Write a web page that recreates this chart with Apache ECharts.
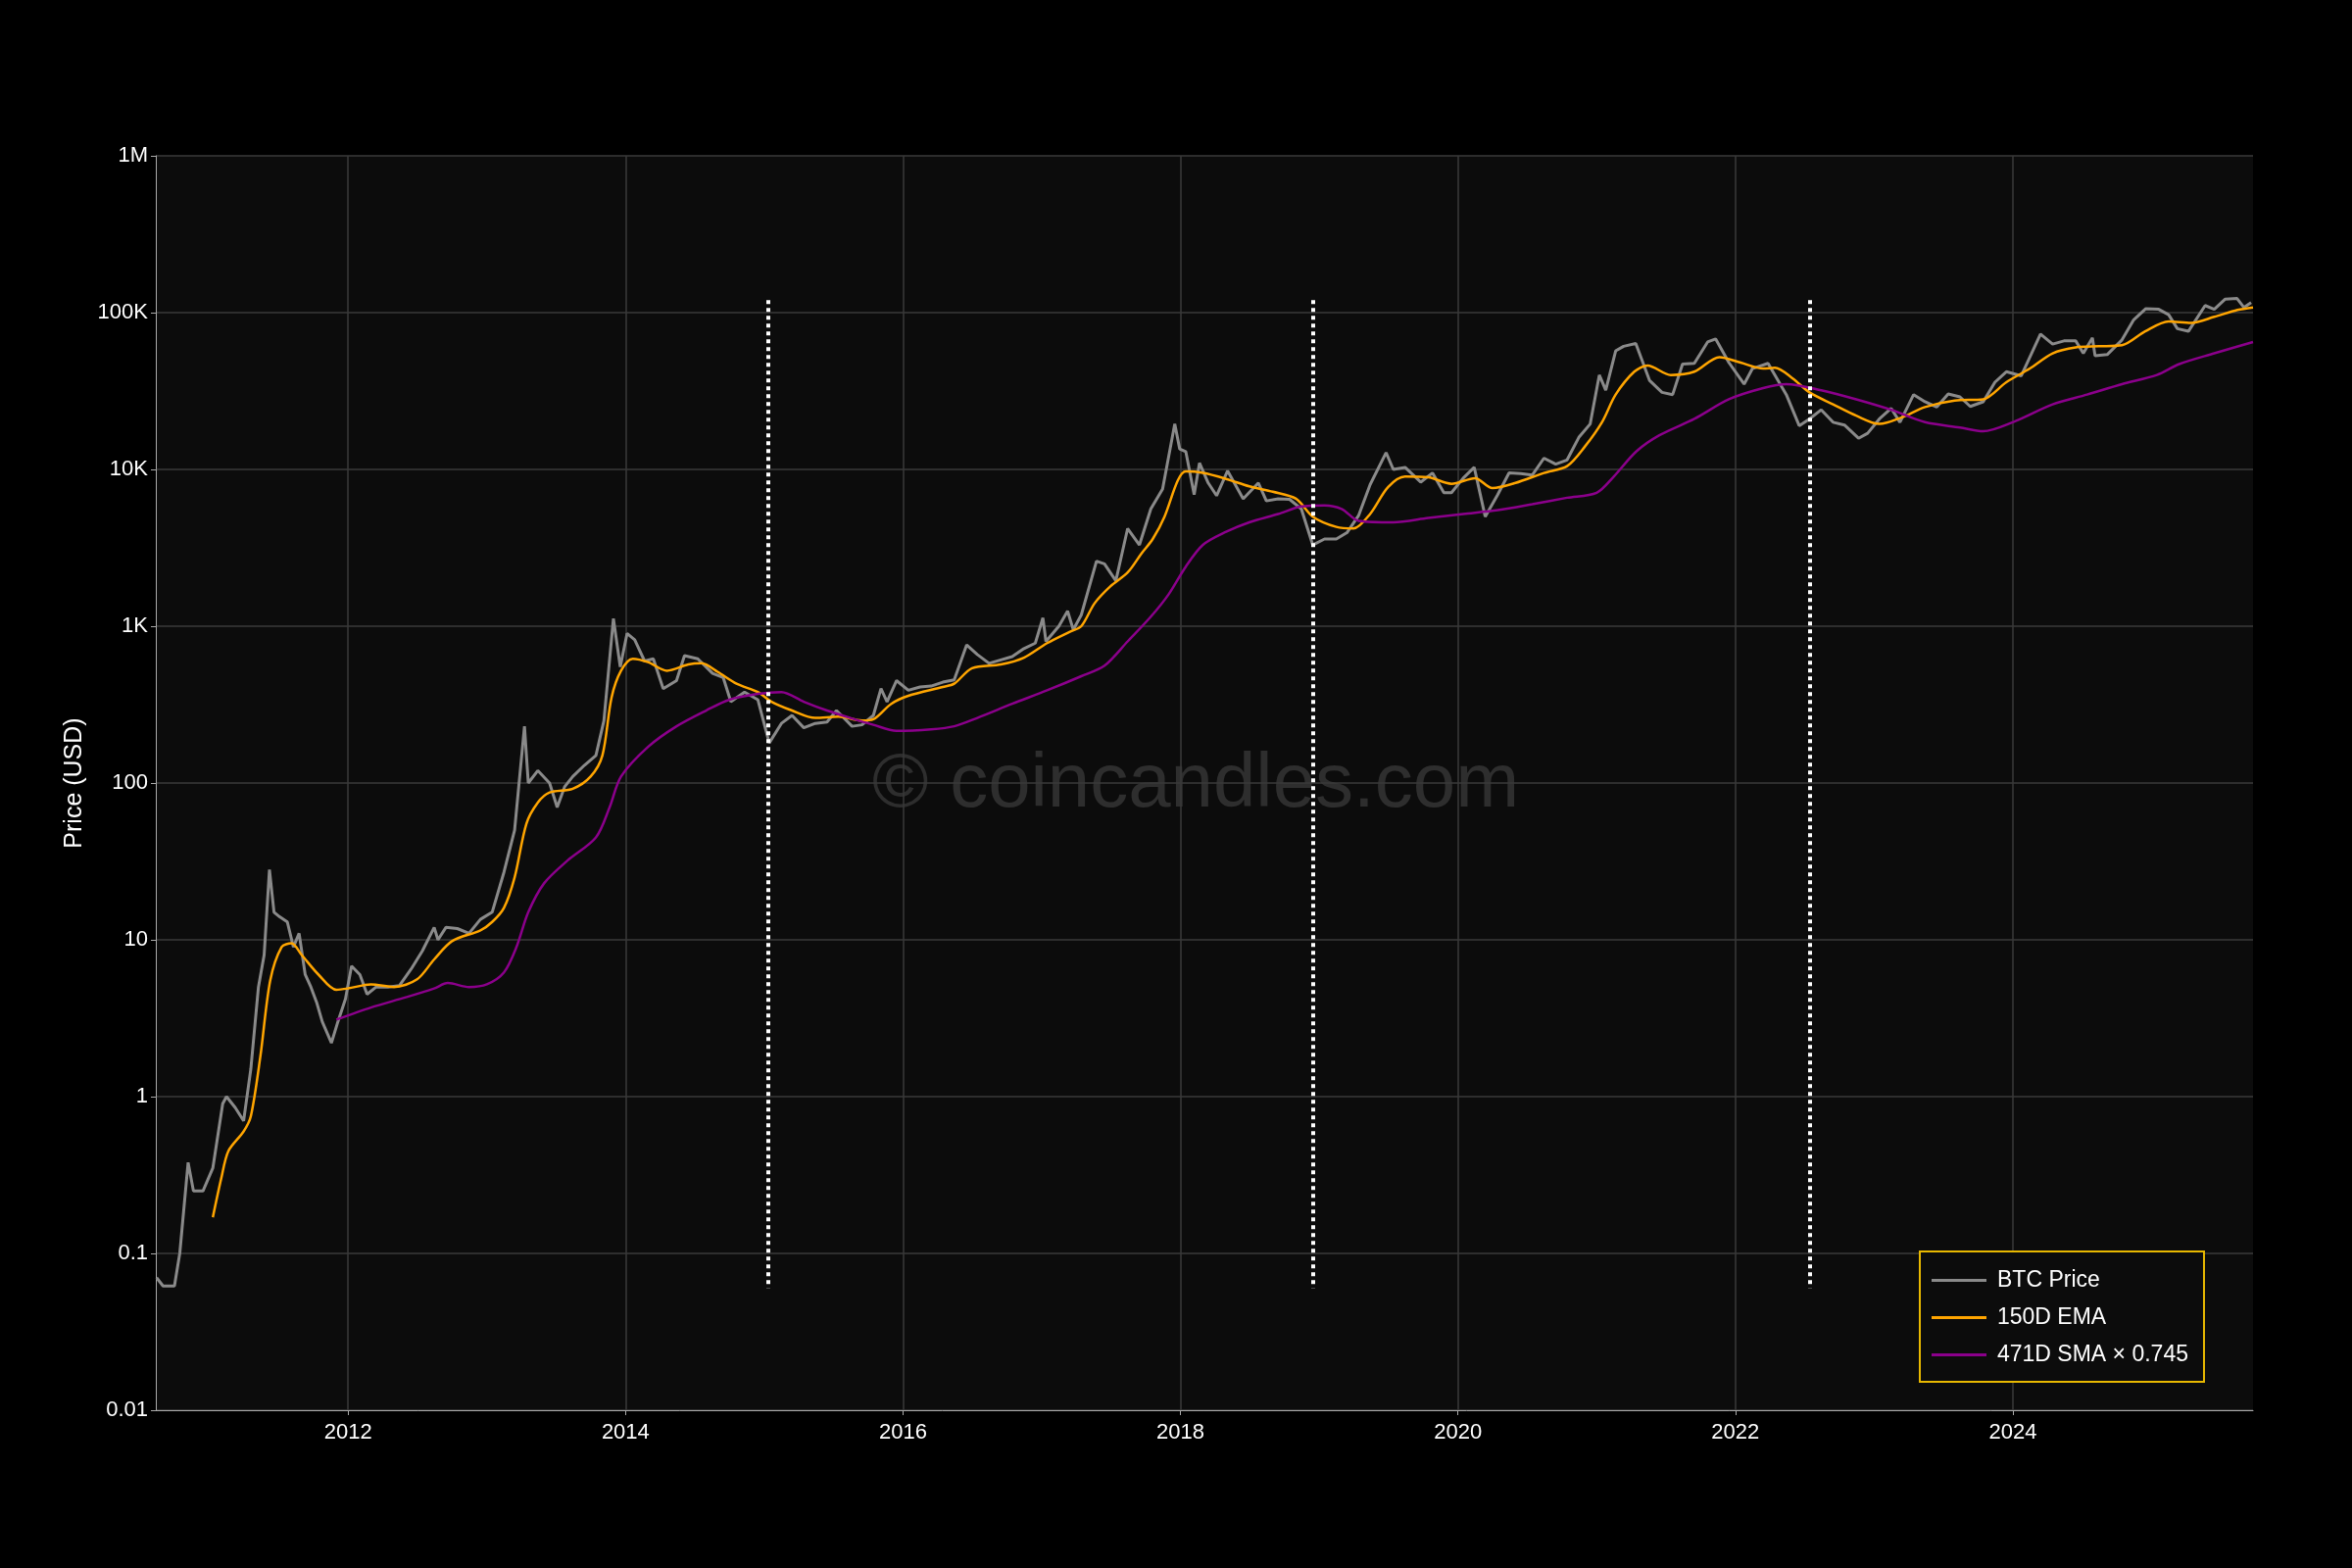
<!DOCTYPE html>
<html><head><meta charset="utf-8">
<script src="https://cdn.jsdelivr.net/npm/echarts@6/dist/echarts.min.js"></script>
<style>html,body{margin:0;background:#000}#c{width:2400px;height:1600px}</style>
</head><body><div id="c"></div>
<script>
const priceData = [
['2010-08-15',0.07],['2010-09-01',0.062],['2010-10-01',0.062],['2010-10-15',0.1],['2010-11-06',0.38],['2010-11-20',0.25],['2010-12-15',0.25],['2011-01-10',0.35],['2011-02-05',0.9],['2011-02-15',1.0],['2011-03-10',0.85],['2011-04-01',0.7],['2011-04-20',1.5],['2011-05-10',5],['2011-05-25',8],['2011-06-08',28],['2011-06-20',15],['2011-07-05',14],['2011-07-25',13],['2011-08-10',9],['2011-08-25',11],['2011-09-10',6],['2011-09-25',5],['2011-10-10',4],['2011-10-25',3],['2011-11-18',2.2],['2011-12-05',3],['2011-12-25',4.2],['2012-01-10',6.8],['2012-02-01',6],['2012-02-20',4.5],['2012-03-15',5],['2012-04-15',5],['2012-05-15',5.1],['2012-06-15',6.5],['2012-07-15',8.5],['2012-08-15',12],['2012-08-25',10],['2012-09-15',12],['2012-10-15',11.8],['2012-11-15',11],['2012-12-15',13.5],['2013-01-15',15],['2013-02-15',27],['2013-03-15',50],['2013-04-10',230],['2013-04-20',100],['2013-05-15',120],['2013-06-15',100],['2013-07-05',70],['2013-07-25',95],['2013-08-15',110],['2013-09-15',130],['2013-10-15',150],['2013-11-05',250],['2013-11-30',1120],['2013-12-18',550],['2014-01-05',900],['2014-01-25',820],['2014-02-20',600],['2014-03-15',620],['2014-04-10',400],['2014-05-15',450],['2014-06-05',650],['2014-07-10',620],['2014-08-18',500],['2014-09-15',470],['2014-10-05',330],['2014-11-10',380],['2014-12-15',340],['2015-01-14',180],['2015-02-15',240],['2015-03-15',270],['2015-04-15',225],['2015-05-15',240],['2015-06-15',245],['2015-07-10',290],['2015-08-20',230],['2015-09-15',235],['2015-10-15',270],['2015-11-04',400],['2015-11-20',330],['2015-12-15',450],['2016-01-15',390],['2016-02-15',410],['2016-03-15',415],['2016-04-15',440],['2016-05-15',455],['2016-06-17',760],['2016-07-15',660],['2016-08-15',580],['2016-09-15',610],['2016-10-15',640],['2016-11-15',720],['2016-12-15',780],['2017-01-04',1130],['2017-01-12',800],['2017-02-15',1000],['2017-03-10',1250],['2017-03-25',950],['2017-04-15',1180],['2017-05-25',2600],['2017-06-15',2500],['2017-07-15',1950],['2017-08-15',4200],['2017-09-15',3300],['2017-10-15',5600],['2017-11-15',7500],['2017-12-17',19500],['2017-12-30',13500],['2018-01-15',13000],['2018-02-06',6900],['2018-02-20',11000],['2018-03-15',8200],['2018-04-06',6800],['2018-05-05',9800],['2018-06-15',6500],['2018-07-25',8200],['2018-08-15',6300],['2018-09-15',6500],['2018-10-15',6450],['2018-11-15',5600],['2018-12-15',3300],['2019-01-15',3600],['2019-02-15',3600],['2019-03-15',3950],['2019-04-15',5100],['2019-05-15',8000],['2019-06-26',12800],['2019-07-15',10000],['2019-08-15',10300],['2019-09-25',8300],['2019-10-26',9500],['2019-11-25',7100],['2019-12-15',7100],['2020-01-15',8800],['2020-02-13',10300],['2020-03-13',5000],['2020-04-15',6900],['2020-05-15',9500],['2020-06-15',9400],['2020-07-15',9200],['2020-08-15',11800],['2020-09-15',10800],['2020-10-15',11500],['2020-11-15',16000],['2020-12-15',19500],['2021-01-08',40000],['2021-01-25',32000],['2021-02-20',57000],['2021-03-13',61000],['2021-04-14',63500],['2021-05-20',37000],['2021-06-22',31000],['2021-07-20',30000],['2021-08-15',47000],['2021-09-15',47500],['2021-10-20',65000],['2021-11-10',68000],['2021-12-15',48000],['2022-01-24',35000],['2022-02-15',44000],['2022-03-28',47500],['2022-04-15',40000],['2022-05-15',30000],['2022-06-18',19000],['2022-07-15',21000],['2022-08-15',24000],['2022-09-15',20000],['2022-10-15',19200],['2022-11-21',15800],['2022-12-15',17000],['2023-01-15',21000],['2023-02-15',24500],['2023-03-10',20000],['2023-04-15',30000],['2023-05-15',27000],['2023-06-15',25000],['2023-07-15',30300],['2023-08-15',29000],['2023-09-11',25200],['2023-10-15',27000],['2023-11-15',36000],['2023-12-15',42000],['2024-01-23',39500],['2024-02-15',52000],['2024-03-14',73000],['2024-04-15',63000],['2024-05-15',66000],['2024-06-15',66000],['2024-07-05',55000],['2024-07-29',69000],['2024-08-05',53000],['2024-09-06',54000],['2024-10-15',67000],['2024-11-15',90000],['2024-12-17',106000],['2025-01-20',105000],['2025-02-15',97000],['2025-03-10',79000],['2025-04-08',76000],['2025-05-22',111000],['2025-06-15',105000],['2025-07-14',122000],['2025-08-14',123000],['2025-09-01',108000],['2025-09-20',116000]
];
const emaData = [
['2011-01-10',0.17],['2011-02-01',0.3],['2011-02-20',0.45],['2011-04-01',0.6],['2011-04-20',0.75],['2011-05-15',1.8],['2011-06-10',5.5],['2011-07-10',9],['2011-08-05',9.5],['2011-09-01',8],['2011-10-15',6],['2011-12-01',4.8],['2012-01-01',4.9],['2012-03-01',5.2],['2012-05-01',5],['2012-07-01',5.6],['2012-08-15',7.5],['2012-10-01',9.8],['2012-12-15',11.5],['2013-01-15',13],['2013-02-15',16],['2013-03-15',25],['2013-04-15',55],['2013-05-15',75],['2013-06-15',87],['2013-08-15',92],['2013-10-01',110],['2013-11-01',150],['2013-11-25',350],['2013-12-20',520],['2014-01-20',620],['2014-03-01',590],['2014-04-20',520],['2014-06-15',570],['2014-07-20',580],['2014-09-01',510],['2014-10-20',430],['2014-12-15',380],['2015-01-20',330],['2015-03-15',290],['2015-05-15',260],['2015-07-15',265],['2015-09-15',250],['2015-10-15',255],['2015-12-01',320],['2016-01-15',360],['2016-04-15',410],['2016-05-15',430],['2016-07-01',540],['2016-09-15',570],['2016-11-15',630],['2017-01-15',780],['2017-03-15',920],['2017-04-15',1000],['2017-05-20',1400],['2017-07-01',1800],['2017-08-15',2200],['2017-09-20',2900],['2017-10-20',3600],['2017-11-20',5000],['2017-12-25',8500],['2018-01-15',9700],['2018-03-01',9500],['2018-05-01',8700],['2018-07-01',7800],['2018-09-01',7200],['2018-11-01',6500],['2018-12-15',5000],['2019-02-15',4300],['2019-04-01',4200],['2019-05-15',5200],['2019-07-01',7700],['2019-08-15',9000],['2019-10-15',8900],['2019-12-15',8100],['2020-02-15',8800],['2020-04-01',7600],['2020-06-01',8200],['2020-08-15',9500],['2020-10-15',10500],['2020-12-01',14000],['2021-01-15',20000],['2021-02-20',30000],['2021-04-10',42000],['2021-05-15',46000],['2021-07-15',40000],['2021-09-15',42000],['2021-11-20',52000],['2022-01-15',48000],['2022-03-15',44000],['2022-04-15',44500],['2022-06-01',38000],['2022-07-15',31000],['2022-09-15',26000],['2022-11-15',22000],['2023-01-15',19500],['2023-03-15',21500],['2023-05-15',25000],['2023-08-01',27500],['2023-10-15',28000],['2023-12-15',36000],['2024-02-15',44000],['2024-04-15',55000],['2024-06-15',60000],['2024-08-15',61000],['2024-10-15',62000],['2024-12-15',76000],['2025-02-15',88000],['2025-04-15',86000],['2025-06-15',94000],['2025-08-15',104000],['2025-09-25',108000]
];
const smaData = [
['2011-12-01',3.1],['2012-03-01',3.7],['2012-06-01',4.3],['2012-08-15',4.9],['2012-09-20',5.3],['2012-11-15',5.0],['2013-01-01',5.2],['2013-02-15',6.2],['2013-03-20',9],['2013-04-20',15],['2013-06-01',23],['2013-08-01',32],['2013-10-15',45],['2013-11-20',70],['2013-12-20',110],['2014-03-01',170],['2014-05-15',230],['2014-08-01',290],['2014-10-01',340],['2014-12-15',370],['2015-02-15',380],['2015-04-15',330],['2015-06-15',290],['2015-08-15',260],['2015-10-15',235],['2015-12-15',215],['2016-03-15',220],['2016-05-15',230],['2016-07-15',260],['2016-10-15',320],['2017-01-15',390],['2017-04-15',480],['2017-06-15',560],['2017-08-15',800],['2017-10-15',1150],['2017-12-01',1600],['2018-01-15',2400],['2018-03-01',3300],['2018-05-01',4000],['2018-07-01',4600],['2018-09-15',5200],['2018-11-15',5800],['2019-01-15',5900],['2019-03-01',5600],['2019-04-15',4700],['2019-07-15',4600],['2019-10-15',4900],['2020-01-15',5200],['2020-04-15',5500],['2020-07-15',6000],['2020-10-15',6600],['2021-01-01',7100],['2021-02-15',9000],['2021-04-15',13000],['2021-06-15',16500],['2021-09-15',21000],['2021-12-15',28000],['2022-03-15',33000],['2022-05-15',35000],['2022-08-15',32000],['2022-11-15',28000],['2023-02-15',24000],['2023-05-15',20000],['2023-08-15',18500],['2023-10-15',17500],['2024-01-01',20000],['2024-04-15',26000],['2024-07-15',30000],['2024-10-15',35000],['2025-01-15',40000],['2025-03-15',47000],['2025-06-15',55000],['2025-09-25',65000]
];
const halvingLines = ['2015-01-10','2018-12-15','2022-07-15'];
const xTickYears = [2012,2014,2016,2018,2020,2022,2024];
const yTickLabels = {0.01:'0.01',0.1:'0.1',1:'1',10:'10',100:'100',1000:'1K',10000:'10K',100000:'100K',1000000:'1M'};

function dy(s){const p=s.split('-').map(Number);const d=new Date(Date.UTC(p[0],p[1]-1,p[2]));const s0=Date.UTC(p[0],0,1),s1=Date.UTC(p[0]+1,0,1);return p[0]+(d-s0)/(s1-s0);}
const conv=a=>a.map(r=>[dy(r[0]),r[1]]);

const chart=echarts.init(document.getElementById('c'));
const txt={color:'#fff',fontSize:22,fontFamily:'Liberation Sans, Arial'};
chart.setOption({
 backgroundColor:'#000',animation:false,
 grid:{left:159,right:101,top:159,bottom:161,show:true,backgroundColor:'#0c0c0c',borderWidth:0},
 graphic:[{type:'text',left:890,top:762,style:{text:'© coincandles.com',fill:'#2e2e2e',font:'78px Liberation Sans, Arial'},z:0,silent:true}],
 xAxis:{type:'value',min:dy('2010-08-13'),max:dy('2025-09-25'),
  axisLine:{lineStyle:{color:'#aaa'}},axisTick:{show:true,customValues:xTickYears,lineStyle:{color:'#aaa'}},
  axisLabel:Object.assign({customValues:xTickYears,formatter:v=>String(Math.round(v)),margin:12},txt),
  splitLine:{show:true,lineStyle:{color:'#3a3a3a',width:1.5}}},
 yAxis:{type:'log',min:0.01,max:1000000,logBase:10,name:'Price (USD)',nameLocation:'middle',nameGap:70,nameTextStyle:Object.assign({},txt,{fontSize:25}),
  axisLine:{show:true,lineStyle:{color:'#aaa'}},axisTick:{show:true,lineStyle:{color:'#aaa'}},
  axisLabel:Object.assign({formatter:v=>yTickLabels[v]||''},txt),
  splitLine:{show:true,lineStyle:{color:'#3a3a3a',width:1.5}}},
 legend:{orient:'vertical',left:1959,top:1277,padding:[18,16,16,12],itemGap:15,borderColor:'#e8b800',borderWidth:2,backgroundColor:'#0c0c0c',
  textStyle:Object.assign({},txt,{fontSize:23,padding:[0,0,0,6]}),icon:'rect',itemWidth:56,itemHeight:3,data:['BTC Price','150D EMA','471D SMA × 0.745']},
 series:[
  {name:'BTC Price',type:'line',data:conv(priceData),showSymbol:false,lineStyle:{color:'#8a8a8a',width:3},itemStyle:{color:'#8a8a8a'},
   markLine:{silent:true,symbol:'none',label:{show:false},lineStyle:{color:'#fff',type:[4,4],width:4},
   data:halvingLines.map(d=>[{coord:[dy(d),120000]},{coord:[dy(d),0.06]}])}},
  {name:'150D EMA',type:'line',data:conv(emaData),showSymbol:false,smooth:0.3,lineStyle:{color:'#ffa500',width:2.5},itemStyle:{color:'#ffa500'}},
  {name:'471D SMA × 0.745',type:'line',data:conv(smaData),showSymbol:false,smooth:0.3,lineStyle:{color:'#8b008b',width:2.5},itemStyle:{color:'#8b008b'}}
 ]
});
</script></body></html>
